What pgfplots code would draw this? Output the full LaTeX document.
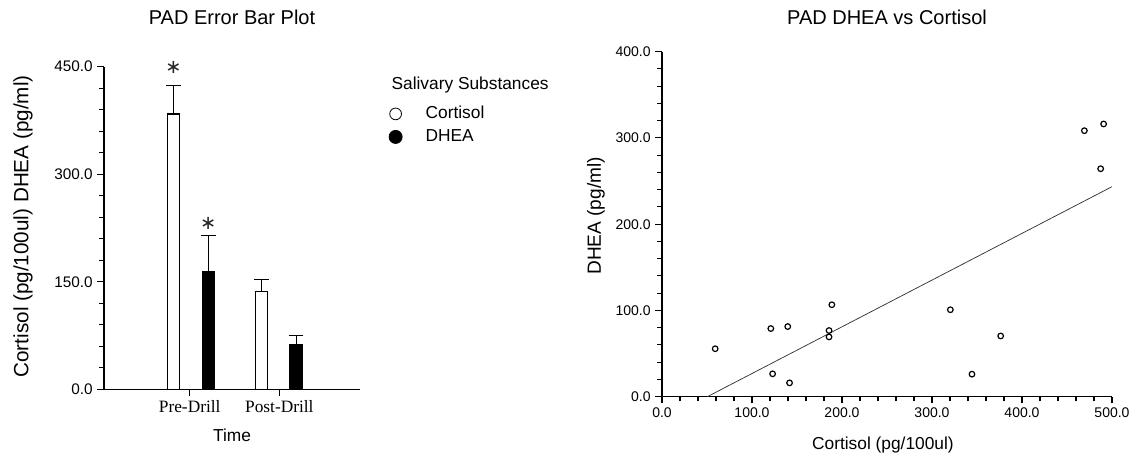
\documentclass[border=0pt]{standalone}
\usepackage{fontspec}
\setmainfont{Liberation Sans}
\newfontfamily\seriffont{Liberation Serif}
\newfontfamily\symfont{DejaVu Sans}
\usepackage{pgfplots}
\pgfplotsset{compat=1.18}
\pgfplotsset{
  base/.style={
    scale only axis,
    axis x line*=bottom,
    axis y line*=left,
    xtick pos=bottom, ytick pos=left,
    axis line style={-, line width=0.8pt},
    xtick align=outside, ytick align=outside,
    major tick length=5pt,
    xtick style={black, line width=0.8pt},
    ytick style={black, line width=0.8pt},
    /pgf/number format/assume math mode=true,
    yticklabel style={/pgf/number format/fixed, /pgf/number format/fixed zerofill, /pgf/number format/precision=1},
    extra y tick labels={},
    extra x tick labels={},
    extra tick style={major tick length=3.5pt, xtick align=outside, ytick align=outside},
  }
}
\begin{document}
\begin{tikzpicture}
\path[use as bounding box] (0,0) rectangle (847.5pt,-341.25pt);
% ---------------- left: error bar plot
\begin{axis}[base,
  at={(78pt,-292pt)}, anchor=south west,
  width=192pt, height=242pt,
  clip=false,
  xmin=0.044, xmax=2.9, ymin=0, ymax=450,
  xtick={1,2}, xticklabels={Pre-Drill,Post-Drill},
  xticklabel style={font=\seriffont\fontsize{13}{15}\selectfont},
  ytick={0,150,300,450},
  extra y ticks={30,60,90,120,180,210,240,270,330,360,390,420},
  yticklabel style={font=\fontsize{11.5}{13}\selectfont},
  title={PAD Error Bar Plot},
  title style={font=\fontsize{15}{17}\selectfont, at={(axis description cs:0.5,1.128)}, anchor=center},
  xlabel={Time},
  xlabel style={font=\fontsize{13}{15}\selectfont, at={(axis description cs:0.5,-0.143)}, anchor=center},
  ylabel={Cortisol (pg/100ul) DHEA (pg/ml)},
  ylabel style={font=\fontsize{15.5}{17}\selectfont, at={(axis description cs:-0.316,0.505)}, anchor=center},
  legend style={at={(axis description cs:1.111,0.818)}, anchor=west, draw=none, fill=none,
    font=\fontsize{13}{15}\selectfont, row sep=4.75pt, inner sep=0pt, column sep=0pt,
    nodes={inner sep=0pt, text height=9.5pt, text depth=3pt}},
  legend cell align=left,
]
\addplot[ybar, bar width=9.4pt, bar shift=0pt, fill=white, draw=black, line width=0.8pt,
  legend image code/.code={\draw[black, fill=white, line width=0.6pt] (4.9pt,0) circle (4.4pt); \path[draw=none, fill=none] (0,0) -- (27.4pt,0);},
  error bars/.cd, y dir=plus, y explicit,
  error bar style={line width=0.8pt, black},
  error mark options={mark size=5.4pt, line width=0.8pt, black, rotate=90}]
  coordinates {(0.82,384) +- (0,40) (1.802,137) +- (0,16)};
\addlegendentry{Cortisol}
\addplot[ybar, bar width=9.4pt, bar shift=0pt, fill=black, draw=black, line width=0.8pt,
  legend image code/.code={\draw[black, fill=black, line width=0.6pt] (4.9pt,0) circle (4.9pt); \path[draw=none, fill=none] (0,0) -- (27.4pt,0);},
  error bars/.cd, y dir=plus, y explicit,
  error bar style={line width=0.8pt, black},
  error mark options={mark size=5.4pt, line width=0.8pt, black, rotate=90}]
  coordinates {(1.208,164) +- (0,50) (2.189,63) +- (0,12.5)};
\addlegendentry{DHEA}
\node[font=\symfont\fontsize{14.5}{16}\selectfont, text=black!85] at (axis cs:0.82,449) {∗};
\node[font=\symfont\fontsize{14.5}{16}\selectfont, text=black!85] at (axis cs:1.208,232) {∗};
\node[anchor=west, font=\fontsize{13}{15}\selectfont] at (axis description cs:1.105,0.944) {Salivary Substances};
\end{axis}
% ---------------- right: scatter
\begin{axis}[base,
  at={(496.5pt,-297.5pt)}, anchor=south west,
  width=337.5pt, height=258.75pt,
  xmin=0, xmax=500, ymin=0, ymax=400,
  xtick={0,100,...,500}, ytick={0,100,...,400},
  extra x ticks={20,40,60,80,120,140,160,180,220,240,260,280,320,340,360,380,420,440,460,480},
  extra y ticks={20,40,60,80,120,140,160,180,220,240,260,280,320,340,360,380},
  ticklabel style={font=\fontsize{10.5}{12}\selectfont},
  xticklabel style={/pgf/number format/fixed, /pgf/number format/fixed zerofill, /pgf/number format/precision=1},
  title={PAD DHEA vs Cortisol},
  title style={font=\fontsize{15}{17}\selectfont, at={(axis description cs:0.5,1.076)}, anchor=center},
  xlabel={Cortisol (pg/100ul)},
  xlabel style={font=\fontsize{13}{15}\selectfont, at={(axis description cs:0.491,-0.14)}, anchor=center},
  ylabel={DHEA (pg/ml)},
  ylabel style={font=\fontsize{14.3}{16}\selectfont, at={(axis description cs:-0.147,0.524)}, anchor=center},
]
\addplot[only marks, mark=o, mark size=2.1pt, black, mark options={line width=0.9pt}] coordinates {
  (59.1,55.6) (120.9,79.0) (139.7,81.3) (122.9,26.5) (141.7,16.0)
  (185.6,76.7) (185.6,69.3) (188.7,106.6) (320.4,100.8) (344.4,26.1)
  (376.3,70.4) (469.3,308.4) (490.7,316.2) (487.4,264.3)
};
\addplot[black!80, line width=0.55pt] coordinates {(50.4,0) (500,243.5)};
\end{axis}
\end{tikzpicture}
\end{document}
